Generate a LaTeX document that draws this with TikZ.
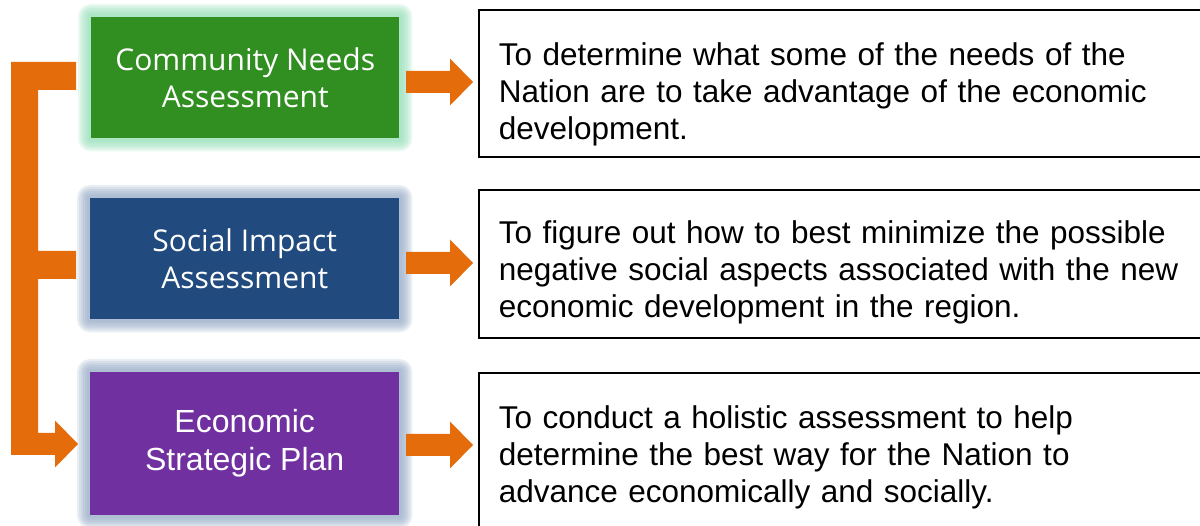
\documentclass[tikz,border=0pt]{standalone}
\usepackage{fontspec}
\setmainfont{Liberation Sans}
\newfontfamily\boxfont{Open Sans}
\usetikzlibrary{calc,backgrounds}
\definecolor{orangec}{HTML}{E46C0A}
\definecolor{greenc}{HTML}{318F22}
\definecolor{bluec}{HTML}{214A7E}
\definecolor{purplec}{HTML}{7130A0}
\definecolor{glowgreen}{HTML}{8FDDB4}
\definecolor{glowblue}{HTML}{93A8C4}
\tikzset{
  stagebox/.style={anchor=north west, inner sep=0pt, text=white, align=center, font=\fontsize{30}{37}\selectfont\boxfont},
  descbox/.style={anchor=north west, draw=black, line width=1.6pt, fill=white, inner xsep=20pt, inner ysep=0pt, text width=700pt, align=left, font=\fontsize{31.5}{37}\selectfont},
  orangefill/.style={fill=orangec}
}
\newcommand\blockarrow[2]{%
  \fill[orangefill] ($(#1)+(0,-11)$) -- ($(#2)+(-23,-11)$) -- ($(#2)+(-23,-23.5)$) -- (#2) -- ($(#2)+(-23,23.5)$) -- ($(#2)+(-23,11)$) -- ($(#1)+(0,11)$) -- cycle;}
\newcommand\glowbox[2]{%
  \foreach \r in {13,11,9,7,5,3} {
    \fill[#2, opacity=0.2, rounded corners=\r pt] ($(#1.south west)+(-\r,\r)$) rectangle ($(#1.north east)+(\r,-\r)$);
  }}
\begin{document}
\begin{tikzpicture}[x=1pt,y=-1pt]
\useasboundingbox (0,0) rectangle (1200,526);
\clip (0,0) rectangle (1200,526);
% stage boxes
\node[stagebox, fill=greenc, minimum width=308pt, minimum height=121pt] (cna) at (91,17) {Community Needs\\Assessment};
\node[stagebox, fill=bluec, minimum width=309pt, minimum height=121pt] (sia) at (90,198) {Social Impact\\Assessment};
\node[stagebox, fill=purplec, minimum width=309pt, minimum height=143pt, font=\fontsize{32}{38}\selectfont] (esp) at (90,372) {Economic\\Strategic Plan\rule[-8pt]{0pt}{0pt}};
\begin{pgfonlayer}{background}
  \glowbox{cna}{glowgreen}
  \glowbox{sia}{glowblue}
  \glowbox{esp}{glowblue}
\end{pgfonlayer}
% description boxes
\node[descbox, text height=56pt, text depth=91pt] (d1) at (478,9) {To determine what some of the needs of the\\Nation are to take advantage of the economic\\development.};
\node[descbox, text height=54pt, text depth=94pt] (d2) at (478,189) {To figure out how to best minimize the possible\\negative social aspects associated with the new\\economic development in the region.};
\node[descbox, text height=56pt, text depth=120pt] (d3) at (478,372) {To conduct a holistic assessment to help\\determine the best way for the Nation to\\advance economically and socially.};
% arrows to descriptions
\coordinate (a1s) at (406,82);
\coordinate (a1e) at ($(d1.west |- a1s)+(-5,0)$);
\coordinate (a2s) at (406,263);
\coordinate (a2e) at ($(d2.west |- a2s)+(-5,0)$);
\coordinate (a3s) at (406,445);
\coordinate (a3e) at ($(d3.west |- a3s)+(-5,0)$);
\blockarrow{a1s}{a1e}
\blockarrow{a2s}{a2e}
\blockarrow{a3s}{a3e}
% left bracket
\coordinate (bt) at (76,76);
\coordinate (bm) at (76,265);
\coordinate (bb) at (78,444);
\fill[orangefill] (11,62) -- ($(bt)+(0,-14)$) -- ($(bt)+(0,14)$) -- (38,90) -- (38,251) -- ($(bm)+(0,-14)$) -- ($(bm)+(0,14)$) -- (38,279) -- (38,433) -- (55,433) -- (55,420.5) -- (bb) -- (55,467.5) -- (55,455) -- (11,455) -- cycle;
\end{tikzpicture}
\end{document}
